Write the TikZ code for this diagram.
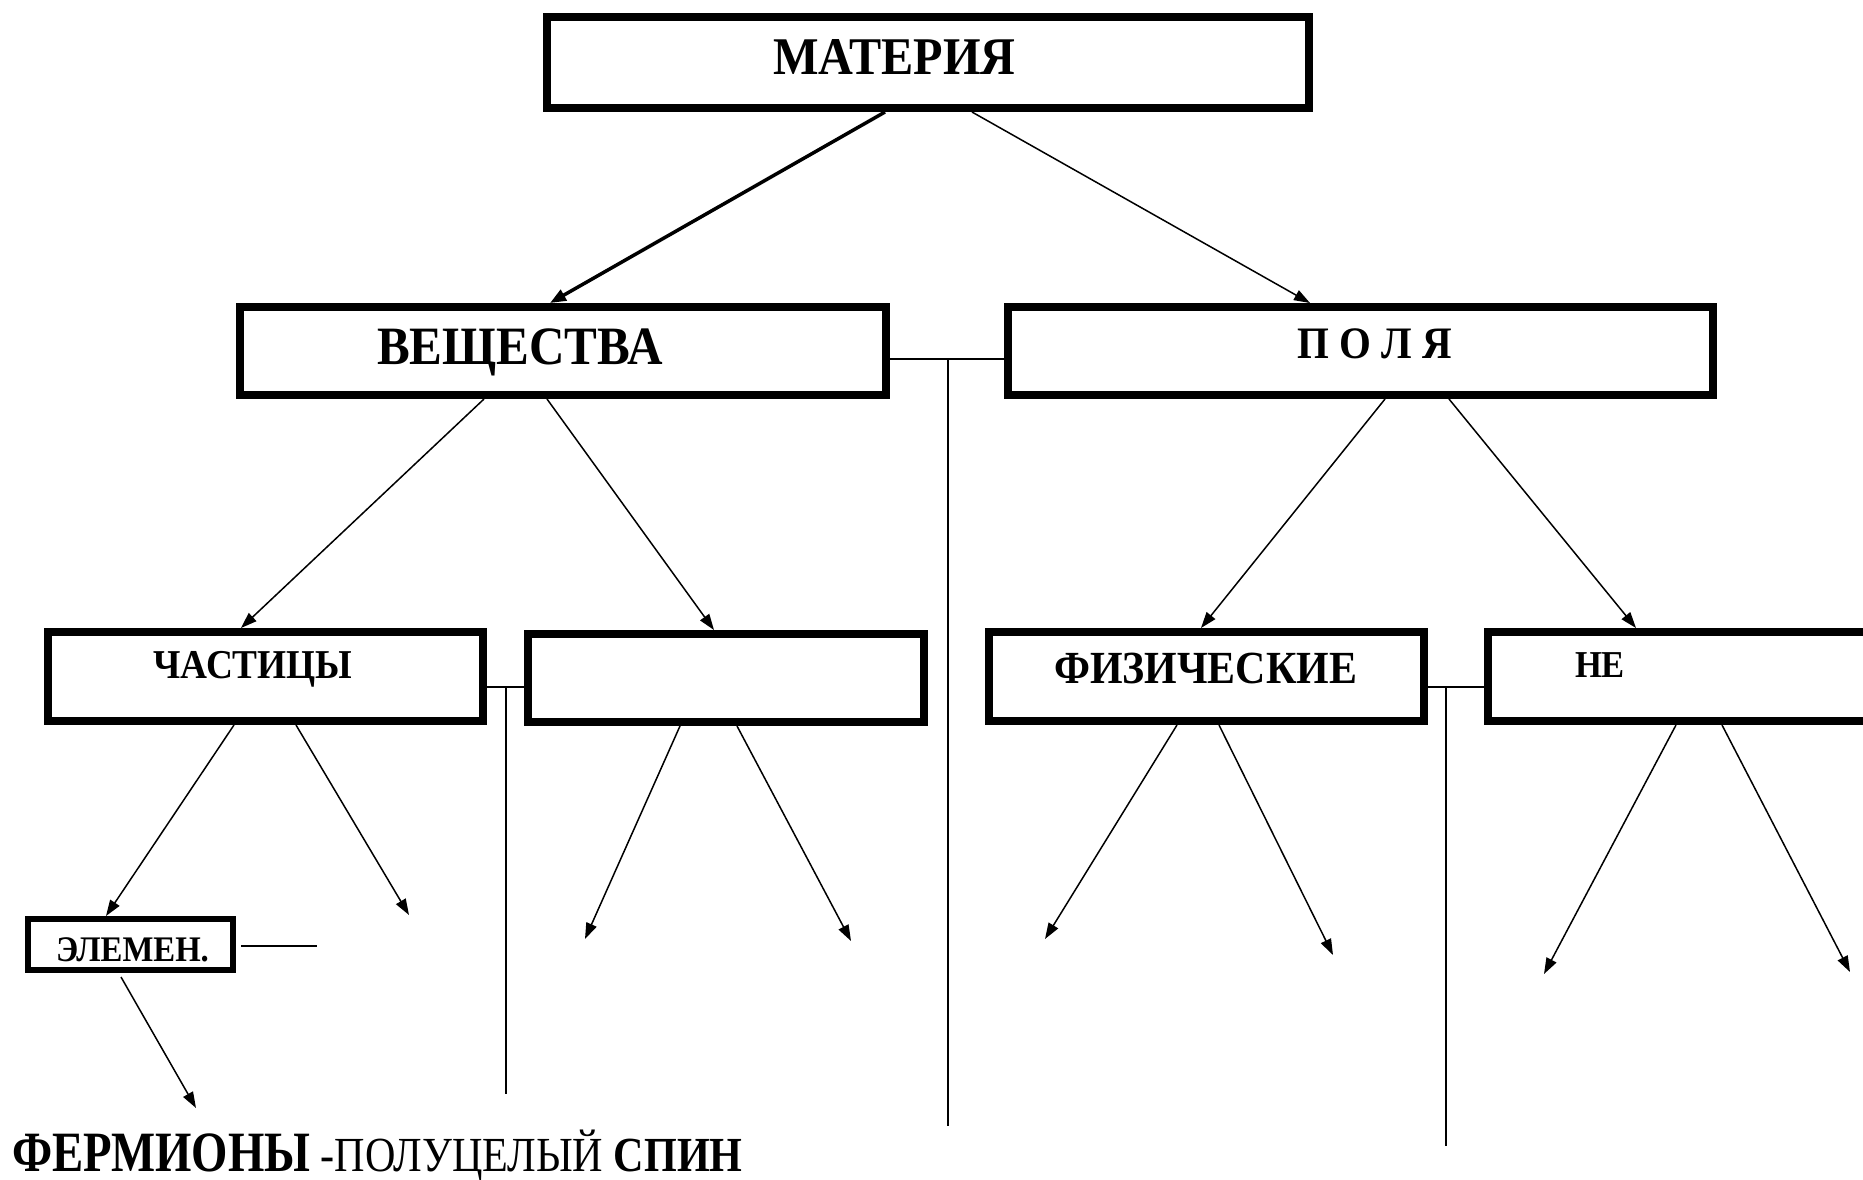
\documentclass[tikz,border=0pt]{standalone}
\usepackage{fontspec}
\usetikzlibrary{arrows.meta}
\setmainfont{Liberation Serif}
\newfontfamily\cond{Liberation Serif}[FakeStretch=0.91]
\newfontfamily\condb{Liberation Serif}[FakeStretch=0.82]
\newfontfamily\condc{Liberation Serif}[FakeStretch=0.86]
\newcommand\fs[1]{\fontsize{#1}{#1}\selectfont}

\tikzset{
  box/.style={draw, rectangle, line width=8pt, inner sep=0pt},
  smallbox/.style={draw, rectangle, line width=6pt, inner sep=0pt},
  lbl/.style={anchor=base, inner sep=0pt, font=\cond\bfseries},
  link/.style={line width=1.5pt},
  arr/.style={line width=1.5pt, -{Triangle[length=16pt,width=11pt]}},
  thickarr/.style={line width=3.5pt, -{Triangle[length=16pt,width=12pt]}}
}

\begin{document}
\begin{tikzpicture}[x=1pt, y=-1pt]
  \useasboundingbox (0,0) rectangle (1863,1179);
  \clip (0,0) rectangle (1863,1179);

  % boxes (outer size minus border width)
  \node[box, minimum width=762pt, minimum height=91pt] (mat) at (928,62.5) {};
  \node[box, minimum width=646pt, minimum height=88pt] (veh) at (563,351) {};
  \node[box, minimum width=705pt, minimum height=88pt] (pol) at (1360.5,351) {};
  \node[box, minimum width=435pt, minimum height=89pt] (cha) at (265.5,676.5) {};
  \node[box, minimum width=396pt, minimum height=88pt] (emp) at (726,678) {};
  \node[box, minimum width=435pt, minimum height=89pt] (fiz) at (1206.5,676.5) {};
  \node[box, minimum width=408pt, minimum height=89pt] (ne) at (1692,676.5) {};
  \node[smallbox, minimum width=205pt, minimum height=51pt] (ele) at (130.5,944.5) {};

  % labels
  \node[lbl, font=\cond\bfseries\fs{53}] (tmat) at (894.5,74) {МАТЕРИЯ};
  \node[lbl, font=\cond\bfseries\fs{54}] (tveh) at (520,364) {ВЕЩЕСТВА};
  \node[lbl, font=\cond\bfseries\fs{45}] (tpol) at (1374.5,358) {П О Л Я};
  \node[lbl, font=\cond\bfseries\fs{41}] (tcha) at (253,678) {ЧАСТИЦЫ};
  \node[lbl, font=\cond\bfseries\fs{46}] (tfiz) at (1205.5,683) {ФИЗИЧЕСКИЕ};
  \node[lbl, font=\cond\bfseries\fs{38}] (tne) at (1600,677) {НЕ};
  \node[lbl, font=\cond\bfseries\fs{36}] (tele) at (132.5,961) {ЭЛЕМЕН.};
  \node[anchor=base west, inner sep=0pt] (ferm) at (12,1171)
    {\condb\fs{57}\textbf{ФЕРМИОНЫ}\condc\fs{49} -ПОЛУЦЕЛЫЙ \textbf{СПИН}};

  % free ends
  \coordinate (vbot) at (948,1126);
  \coordinate (cbot) at (506,1094);
  \coordinate (fbot) at (1446,1146);
  \coordinate (eleR) at (317,946);
  \coordinate (c2) at (409,915);
  \coordinate (e1) at (585,939);
  \coordinate (e2) at (851,941);
  \coordinate (f1) at (1045,939);
  \coordinate (f2) at (1333,955);
  \coordinate (n1) at (1544,974);
  \coordinate (n2) at (1850,972);
  \coordinate (fermTop) at (196,1108);

  % top level
  \draw[thickarr] (885,0 |- mat.south) -- (550,0 |- veh.north);
  \draw[arr] (972,0 |- mat.south) -- (1310,0 |- pol.north);

  % joins between sibling boxes
  \draw[link] (veh.east |- 0,359) -- (pol.west |- 0,359);
  \draw[link] (948,359) -- (vbot);
  \draw[link] (cha.east |- 0,687) -- (emp.west |- 0,687);
  \draw[link] (506,687) -- (cbot);
  \draw[link] (fiz.east |- 0,687) -- (ne.west |- 0,687);
  \draw[link] (1446,687) -- (fbot);
  \draw[link] (ele.east |- 0,946) ++(5,0) -- (eleR);

  % second level
  \draw[arr] (484,0 |- veh.south) -- (241,0 |- cha.north);
  \draw[arr] (547,0 |- veh.south) -- (714,0 |- emp.north);
  \draw[arr] (1385,0 |- pol.south) -- (1201,0 |- fiz.north);
  \draw[arr] (1449,0 |- pol.south) -- (1636,0 |- ne.north);

  % third level
  \draw[arr] (234,0 |- cha.south) -- (106,0 |- ele.north);
  \draw[arr] (296,0 |- cha.south) -- (c2);
  \draw[arr] (680,0 |- emp.south) -- (e1);
  \draw[arr] (737,0 |- emp.south) -- (e2);
  \draw[arr] (1177,0 |- fiz.south) -- (f1);
  \draw[arr] (1219,0 |- fiz.south) -- (f2);
  \draw[arr] (1676,0 |- ne.south) -- (n1);
  \draw[arr] (1722,0 |- ne.south) -- (n2);
  \draw[arr] (121,0 |- ele.south) ++(0,4) -- (fermTop);
\end{tikzpicture}
\end{document}
